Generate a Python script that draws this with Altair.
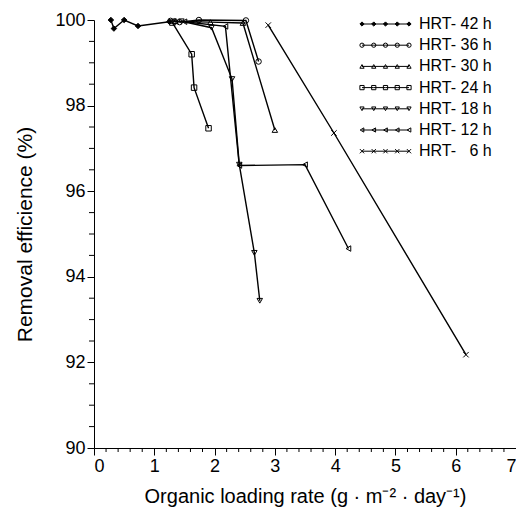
import altair as alt
import pandas as pd

# ---------------- data ----------------
series_names = ["HRT- 42 h", "HRT- 36 h", "HRT- 30 h", "HRT- 24 h",
                "HRT- 18 h", "HRT- 12 h", "HRT- \u20076 h"]

x42 = [0.28, 0.33, 0.50, 0.73, 1.25]
y42 = [100.0, 99.80, 100.0, 99.86, 99.96]

x36 = [1.27, 1.34, 1.42, 1.74, 2.52, 2.73]
y36 = [99.98, 99.97, 99.95, 100.0, 99.99, 99.03]

x30 = [1.35, 1.93, 2.47, 3.00]
y30 = [99.97, 99.95, 99.93, 97.43]

x24 = [1.30, 1.62, 1.66, 1.90]
y24 = [99.94, 99.20, 98.42, 97.47]

x18 = [1.45, 1.95, 2.29, 2.41, 2.66, 2.75]
y18 = [99.97, 99.82, 98.62, 96.62, 94.56, 93.44]

x12 = [1.50, 2.18, 2.41, 3.50, 4.22]
y12 = [99.96, 99.85, 96.60, 96.62, 94.66]

x6 = [2.89, 3.98, 6.17]
y6 = [99.88, 97.36, 92.18]

xs = [x42, x36, x30, x24, x18, x12, x6]
ys = [y42, y36, y30, y24, y18, y12, y6]

shapes = ["diamond", "circle", "triangle-up", "square", "triangle-down",
          "triangle-left", "M-1,-1L1,1M-1,1L1,-1"]
fills = ["black", "transparent", "transparent", "transparent", "transparent",
         "transparent", "transparent"]

x_major = [0, 1, 2, 3, 4, 5, 6, 7]
x_minor = [round(i * 0.2, 1) for i in range(36) if i % 5 != 0]
y_major = [90, 92, 94, 96, 98, 100]
y_minor = [90 + i * 0.5 for i in range(21) if i % 4 != 0]

rows = []
for name, xx, yy in zip(series_names, xs, ys):
    for i, (a, b) in enumerate(zip(xx, yy)):
        rows.append({"series": name, "order": i, "x": a, "y": b})
df = pd.DataFrame(rows)

W, H = 422, 428
FONT = "Liberation Sans"

# legend layout (pixels inside the plot area)
leg_rows = []
leg_text = []
for r, name in enumerate(series_names):
    ly = 4 + r * 21.2
    for k in range(5):
        leg_rows.append({"series": name, "k": k, "lx": 268 + k * 11.75, "ly": ly})
    leg_text.append({"series": name, "lx": 325, "ly": ly})
leg = pd.DataFrame(leg_rows)
legt = pd.DataFrame(leg_text)

shape_scale = alt.Scale(domain=series_names, range=shapes)
fill_scale = alt.Scale(domain=series_names, range=fills)

xscale = alt.Scale(domain=[0, 7], nice=False, zero=False)
yscale = alt.Scale(domain=[90, 100], nice=False, zero=False)

xenc = alt.X("x:Q", scale=xscale,
             axis=alt.Axis(values=x_major, title="Organic loading rate (g · m⁻² · day⁻¹)",
                           tickSize=7, labelPadding=2, titlePadding=11, format="d"))
yenc = alt.Y("y:Q", scale=yscale,
             axis=alt.Axis(values=y_major, title="Removal efficience (%)",
                           tickSize=7, labelPadding=2, titlePadding=19,
                           titleFontSize=21, format="d"))

lines = alt.Chart(df).mark_line(color="black", strokeWidth=1.4).encode(
    x=xenc, y=yenc, detail="series:N", order="order:Q")

points = alt.Chart(df).mark_point(strokeWidth=1, opacity=1, stroke="black").encode(
    x="x:Q", y="y:Q",
    shape=alt.Shape("series:N", scale=shape_scale, legend=None),
    fill=alt.Fill("series:N", scale=fill_scale, legend=None),
    size=alt.value(30))

ymin_df = pd.DataFrame({"y": y_minor})
yminor = alt.Chart(ymin_df).mark_rule(color="black", strokeWidth=1).encode(
    y="y:Q", x=alt.value(-5), x2=alt.value(0))

xmin_df = pd.DataFrame({"x": x_minor})
xminor = alt.Chart(xmin_df).mark_rule(color="black", strokeWidth=1).encode(
    x="x:Q", y=alt.value(H), y2=alt.value(H + 4))

leg_lines = alt.Chart(leg).mark_line(color="black", strokeWidth=1).encode(
    x=alt.X("lx:Q", scale=None, axis=None),
    y=alt.Y("ly:Q", scale=None, axis=None),
    detail="series:N", order="k:Q")

leg_pts = alt.Chart(leg).mark_point(strokeWidth=1, opacity=1, stroke="black").encode(
    x=alt.X("lx:Q", scale=None, axis=None),
    y=alt.Y("ly:Q", scale=None, axis=None),
    shape=alt.Shape("series:N", scale=shape_scale, legend=None),
    fill=alt.Fill("series:N", scale=fill_scale, legend=None),
    size=alt.value(18))

leg_txt = alt.Chart(legt).mark_text(align="left", baseline="middle", fontSize=16,
                                     font=FONT, color="black").encode(
    x=alt.X("lx:Q", scale=None, axis=None),
    y=alt.Y("ly:Q", scale=None, axis=None),
    text="series:N")

chart = alt.layer(lines, points, yminor, xminor, leg_lines, leg_pts, leg_txt).properties(
    width=W, height=H,
    background="white",
    autosize=alt.AutoSizeParams(type="none"),
    padding={"left": 86, "top": 12, "right": 0, "bottom": 60},
).configure_view(stroke=None).configure_axis(
    grid=False, domainColor="black", tickColor="black", labelColor="black",
    titleColor="black", labelFont=FONT, titleFont=FONT, labelFontSize=18,
    titleFontSize=20, titleFontWeight="normal", domainWidth=1, tickWidth=1,
)

chart.save("out.html", embed_options={"renderer": "svg", "actions": False})
